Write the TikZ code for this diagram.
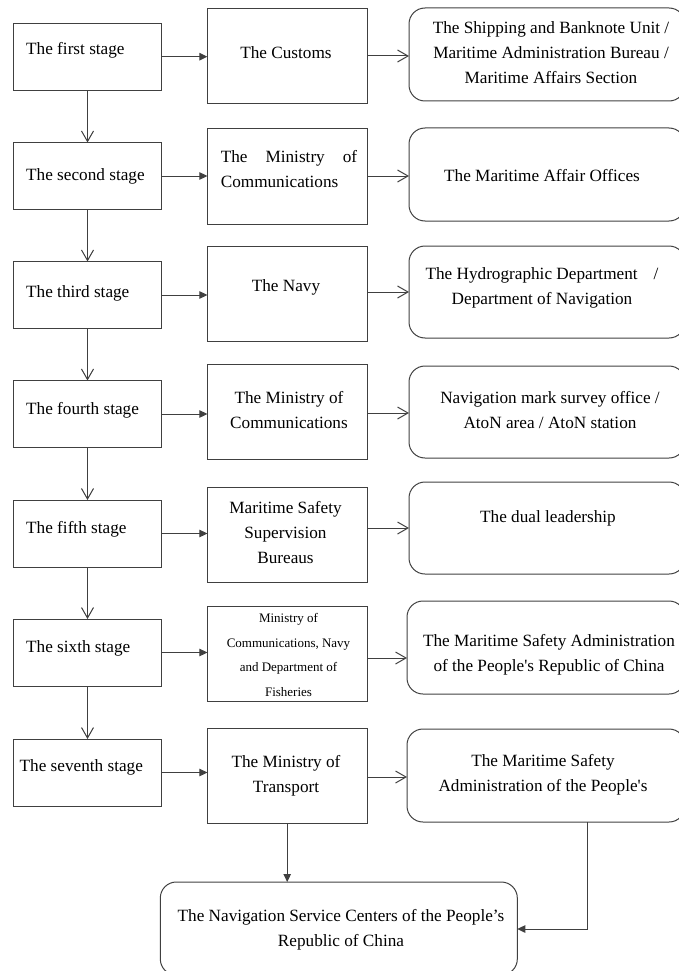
\documentclass[tikz,border=0pt]{standalone}
\usepackage{fontspec}
\setmainfont{Liberation Serif}[Ligatures=TeXOff]
\usetikzlibrary{arrows.meta}
\begin{document}
\begin{tikzpicture}[x=1pt,y=-1pt,
  ln/.style={draw=black!75, line width=1pt},
  stagebox/.style={ln, rectangle, minimum width=147.2pt, minimum height=67pt, inner sep=0pt, outer sep=0pt},
  midbox/.style={ln, rectangle, minimum width=159.6pt, minimum height=95pt, inner sep=0pt, outer sep=0pt},
  resbox/.style={ln, rectangle, rounded corners=16pt, minimum width=276pt, minimum height=93pt, inner sep=0pt, outer sep=0pt},
  txt/.style={font=\fontsize{17.2pt}{25pt}\selectfont, align=center, inner sep=0pt, text=black},
  small/.style={font=\fontsize{13pt}{24.5pt}\selectfont, align=center, inner sep=0pt, text=black},
  solidarrow/.style={draw=black!75, line width=1pt, -{Triangle[length=8pt,width=7.5pt]}},
  openarrow/.style={draw=black!75, line width=1pt, -{Straight Barb[length=10.5pt,width=12pt]}},
]
\useasboundingbox (0,0) rectangle (679,971);

% stage boxes
\node[stagebox] (s1) at (87.5,56.7) {};
\node[stagebox] (s2) at (87.5,176) {};
\node[stagebox] (s3) at (87.5,295) {};
\node[stagebox] (s4) at (87.5,414) {};
\node[stagebox] (s5) at (87.5,533.5) {};
\node[stagebox] (s6) at (87.5,652.5) {};
\node[stagebox] (s7) at (87.5,772.5) {};

\node[txt, anchor=west] (t1) at (26,50) {The first stage};
\node[txt, anchor=west] (t2) at (26,176) {The second stage};
\node[txt, anchor=west] (t3) at (26,293) {The third stage};
\node[txt, anchor=west] (t4) at (26,410) {The fourth stage};
\node[txt, anchor=west] (t5) at (26,529) {The fifth stage};
\node[txt, anchor=west] (t6) at (26,648) {The sixth stage};
\node[txt, anchor=west] (t7) at (19.5,767) {The seventh stage};

% middle boxes
\node[midbox] (m1) at (287.2,56.5) {};
\node[midbox] (m2) at (287.2,176.5) {};
\node[midbox] (m3) at (287.2,294) {};
\node[midbox] (m4) at (287.2,411.5) {};
\node[midbox] (m5) at (287.2,535) {};
\node[midbox] (m6) at (287.2,653.5) {};
\node[midbox] (m7) at (287.2,775.5) {};

\node[txt] (u1) at (286,53) {The Customs};
\node[txt, align=left, text width=136.4pt] (u2) at (289,169.5) {The\hfill Ministry\hfill of\\Communications};
\node[txt] (u3) at (286,287) {The Navy};
\node[txt] (u4) at (289,410) {The Ministry of\\Communications};
\node[txt] (u5) at (285.5,533) {Maritime Safety\\Supervision\\Bureaus};
\node[small] (u6) at (288.5,655) {Ministry of\\Communications, Navy\\and Department of\\Fisheries};
\node[txt] (u7) at (286,775.5) {The Ministry of\\Transport};

% result boxes
\node[resbox] (r1) at (547,54.5) {};
\node[resbox] (r2) at (547,174.5) {};
\node[resbox, minimum height=92pt] (r3) at (547,292) {};
\node[resbox, minimum height=92pt] (r4) at (547,412) {};
\node[resbox, minimum height=92pt] (r5) at (547,528) {};
\node[resbox, minimum width=278pt] (r6) at (546,647.5) {};
\node[resbox, minimum width=278pt] (r7) at (546,775.5) {};

\node[txt] (v1) at (551,53) {The Shipping and Banknote Unit /\\Maritime Administration Bureau /\\Maritime Affairs Section};
\node[txt] (v2) at (542,176) {The Maritime Affair Offices};
\node[txt] (v3) at (542,288) {The Hydrographic Department\hspace{16pt}/\\Department of Navigation};
\node[txt] (v4) at (550,410.5) {Navigation mark survey office /\\AtoN area / AtoN station};
\node[txt] (v5) at (548,518) {The dual leadership};
\node[txt] (v6) at (549,654.5) {The Maritime Safety Administration\\of the People's Republic of China};
\node[txt] (v7) at (543,774.5) {The Maritime Safety\\Administration of the People's};

% final box
\node[resbox, minimum width=357pt, minimum height=93pt] (f) at (338.8,928.5) {};
\node[txt] (ft) at (341,929.5) {The Navigation Service Centers of the People’s\\Republic of China};

% helper coordinates
\coordinate (x587) at (587,0);
\coordinate (y929) at (0,929);
\coordinate (k1) at (0,56);
\coordinate (k2) at (0,176);
\coordinate (k3) at (0,292);
\coordinate (k4) at (0,413);
\coordinate (k5) at (0,528);
\coordinate (k6) at (0,658);
\coordinate (k7) at (0,777);

% stage -> middle
\foreach \i in {1,...,7} {
  \draw[solidarrow] (s\i.east) -- (s\i.east -| m\i.west);
}
% middle -> result
\foreach \i in {1,...,7} {
  \draw[openarrow] (m\i.east |- k\i) -- (r\i.west |- k\i);
}
% stage -> stage
\foreach \i/\j in {1/2,2/3,3/4,4/5,5/6,6/7} {
  \draw[openarrow] (s\i.south) -- (s\j.north);
}
% to final
\draw[solidarrow] (m7.south) -- (m7.south |- f.north);
\draw[solidarrow] (r7.south -| x587) |- (f.east |- y929);
\end{tikzpicture}
\end{document}
